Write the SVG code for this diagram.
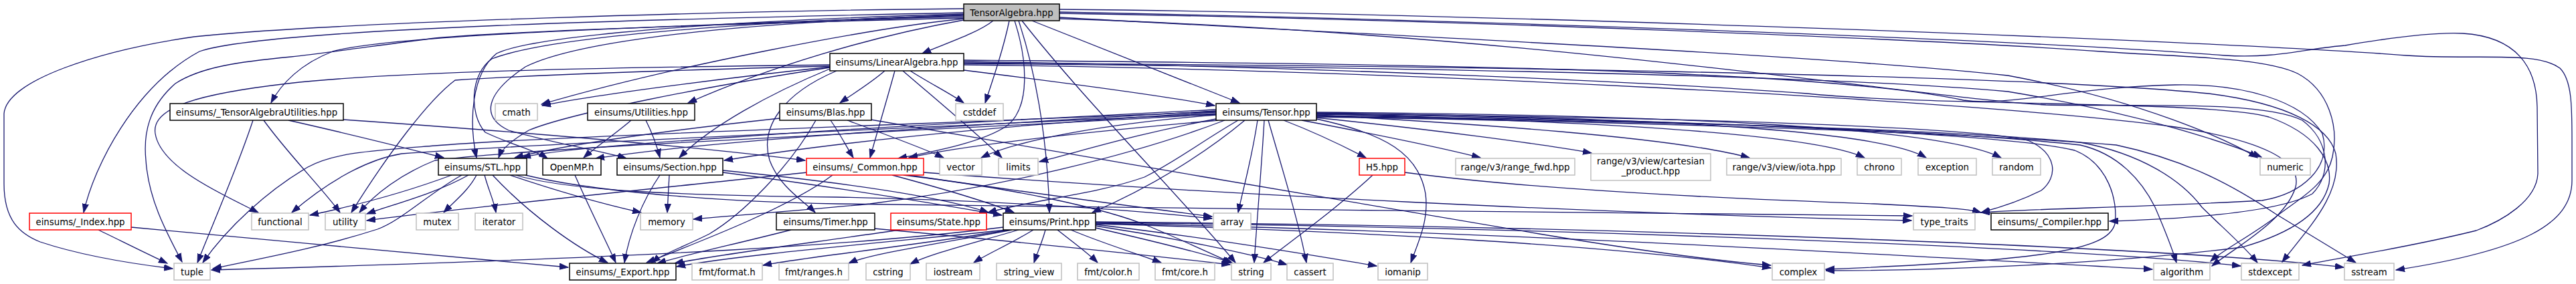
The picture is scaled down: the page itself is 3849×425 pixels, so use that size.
<svg xmlns="http://www.w3.org/2000/svg" width="3849" height="425" viewBox="0 0 3849 425">
<defs>
<marker id="ah" markerWidth="14" markerHeight="10" refX="13" refY="5" orient="auto" markerUnits="userSpaceOnUse">
<path d="M0,0.4 L13,5 L0,9.6 z" fill="#191970" stroke="#191970" stroke-width="1"/>
</marker>
</defs>
<style>
.e{fill:none;stroke:#191970;stroke-width:1.3;marker-end:url(#ah)}
.b{fill:#ffffff;stroke:#000000;stroke-width:1.5}
.r{fill:#ffffff;stroke:#ff0000;stroke-width:1.5}
.g{fill:#ffffff;stroke:#bfbfbf;stroke-width:1.5}
.root{fill:#bfbfbf;stroke:#000000;stroke-width:1.5}
text{font-family:"DejaVu Sans","Liberation Sans",sans-serif;font-size:13.33px;fill:#000000;text-anchor:middle}
</style>
<rect x="0" y="0" width="3849" height="425" fill="#ffffff"/>
<g id="edges">
<!-- TensorAlgebra.hpp -->
<path class="e" d="M1484,31 C1460,50 1410,66 1378,80"/>
<path class="e" d="M1508,31 C1500,70 1485,115 1472,154"/>
<path class="e" d="M1516,31 C1535,90 1540,160 1505,188 C1470,212 1400,226 1342,237"/>
<path class="e" d="M1522,31 C1545,100 1565,200 1568,318"/>
<path class="e" d="M1527,31 C1620,150 1760,290 1846,393"/>
<path class="e" d="M1542,31 L1852,154"/>
<path class="e" d="M1440,22 C1100,38 600,48 497,77 C450,95 420,125 405,154"/>
<path class="e" d="M1440,19 C1000,28 400,42 298,77 C200,130 140,250 125,318"/>
<path class="e" d="M1440,13 C1100,16 500,33 290,55 C150,75 10,120 6,170 L6,275 C6,330 30,350 60,362 C120,382 200,395 258,402"/>
<path class="e" d="M1440,27 C1000,38 750,48 650,57 C550,70 480,80 435,85 C360,92 300,100 262,125 C222,160 214,200 218,240 C222,300 250,350 272,392"/>
<path class="e" d="M1440,28 C1300,42 1000,100 809,156"/>
<path class="e" d="M1440,30 C1300,55 1150,100 1028,154"/>
<path class="e" d="M1440,21 C1100,30 800,52 742,80 C705,110 700,180 712,236"/>
<path class="e" d="M1440,23 C1100,33 820,55 735,88 C703,110 700,170 725,198 C760,215 800,225 818,237"/>
<path class="e" d="M1440,25 C1100,32 860,62 785,100 C725,140 718,175 760,195 C830,215 900,226 936,237"/>
<path class="e" d="M1583,14 C2200,20 3300,60 3596,83 C3700,90 3790,76 3825,102 C3843,120 3843,160 3843,210 L3843,270 C3843,335 3770,375 3580,404"/>
<path class="e" d="M1583,18 C2200,30 3000,58 3325,83 C3400,88 3450,72 3504,68 C3580,55 3640,48 3680,50 C3760,55 3790,100 3791,160 L3792,260 C3790,300 3740,330 3700,345 C3600,370 3500,385 3440,397"/>
<path class="e" d="M1583,20 C2200,30 2900,60 3139,77 C3250,85 3380,85 3433,110 C3480,135 3495,190 3485,235 C3475,280 3430,300 3400,325 C3360,355 3320,375 3303,391"/>
<path class="e" d="M1583,26 C2000,50 2700,80 3000,113 C3200,150 3330,210 3373,236"/>
<path class="e" d="M1583,28 C2300,50 2900,150 3057,157 C3200,160 3380,150 3440,180 C3480,210 3485,260 3455,290 C3400,320 3250,328 3152,331"/>
<!-- LinearAlgebra.hpp -->
<path class="e" d="M1322,106 C1300,125 1275,140 1255,154"/>
<path class="e" d="M1337,106 C1325,150 1310,200 1300,236"/>
<path class="e" d="M1349,106 C1400,150 1460,200 1497,236"/>
<path class="e" d="M1360,106 C1390,125 1420,140 1440,154"/>
<path class="e" d="M1440,105 C1600,125 1750,145 1815,158"/>
<path class="e" d="M1240,100 C1100,115 900,140 810,158"/>
<path class="e" d="M1240,97 C1000,100 600,105 430,125 C300,140 225,160 232,200 C240,250 330,290 386,318"/>
<path class="e" d="M1240,99 C1000,105 800,112 680,120 C640,150 580,230 525,318"/>
<path class="e" d="M1240,103 C1150,140 1060,190 1015,236"/>
<path class="e" d="M1250,106 C1170,140 1135,190 1150,240 C1165,280 1200,300 1218,318"/>
<path class="e" d="M1240,101 C1050,130 850,170 790,195 C765,210 750,222 745,236"/>
<path class="e" d="M1440,95 C2000,100 2700,110 3000,137 C3200,170 3330,215 3379,235"/>
<path class="e" d="M1440,90 C2000,95 2700,100 2934,150 C3000,160 3100,130 3250,127 C3350,125 3440,150 3470,200 C3485,250 3440,290 3380,300 C3200,310 3050,312 2960,318"/>
<path class="e" d="M1440,92 C2000,100 2500,125 2700,140 C2900,160 3300,150 3390,175 C3460,200 3485,240 3480,275 C3470,320 3420,350 3350,370 C3150,395 2900,405 2728,405"/>
<path class="e" d="M1440,94 C2100,98 3000,110 3300,140 C3420,155 3480,190 3490,230 C3500,290 3450,340 3410,392"/>
<path class="e" d="M1440,97 C2100,105 2950,150 3250,190 C3380,210 3440,240 3430,280 C3415,330 3340,370 3305,398"/>
<!-- Tensor.hpp -->
<path class="e" d="M1918,180 C1970,200 2010,220 2041,236"/>
<path class="e" d="M1945,180 C2050,200 2150,220 2212,236"/>
<path class="e" d="M1966,176 C2150,195 2300,215 2378,229"/>
<path class="e" d="M1967,172 C2200,185 2500,205 2614,236"/>
<path class="e" d="M1967,170 C2300,180 2700,195 2786,236"/>
<path class="e" d="M1967,169 C2400,175 2800,190 2878,236"/>
<path class="e" d="M1967,168 C2500,172 2900,190 2990,236"/>
<path class="e" d="M1967,170 C2500,175 2950,190 3030,210 C3075,230 3075,265 3050,285 C3020,300 2990,310 2960,318"/>
<path class="e" d="M1967,171 C2500,178 3000,200 3100,225 C3150,245 3165,300 3160,335 C3150,375 3050,390 2728,403"/>
<path class="e" d="M1967,173 C2500,180 2900,195 3108,217 C3165,230 3200,270 3220,310 C3235,345 3245,370 3252,393"/>
<path class="e" d="M1967,174 C2500,182 2900,193 3108,213 C3200,230 3260,270 3290,310 C3320,340 3350,365 3373,393"/>
<path class="e" d="M1967,175 C2500,183 2950,200 3162,217 C3270,240 3340,280 3400,320 C3450,350 3490,375 3520,393"/>
<path class="e" d="M1817,164 C1600,175 1300,190 1100,205 C950,215 820,225 780,236"/>
<path class="e" d="M1817,166 C1500,185 1100,205 890,237"/>
<path class="e" d="M1817,168 C1600,180 1300,205 1082,240"/>
<path class="e" d="M1820,180 C1650,195 1450,215 1358,236"/>
<path class="e" d="M1817,172 C1650,185 1520,210 1466,236"/>
<path class="e" d="M1817,178 C1700,200 1620,225 1553,242"/>
<path class="e" d="M1817,170 C1400,190 800,215 600,230 C540,240 480,280 436,318"/>
<path class="e" d="M1817,171 C1400,195 800,220 650,240 C600,260 560,290 537,318"/>
<path class="e" d="M1817,167 C1400,185 800,205 650,218 C560,225 500,228 460,250 C400,285 340,340 303,393"/>
<path class="e" d="M1830,180 C1700,230 1500,280 1300,305 C1200,315 1100,322 1036,328"/>
<path class="e" d="M1850,180 C1790,215 1760,240 1710,265 C1640,290 1540,300 1476,318"/>
<path class="e" d="M1860,180 C1800,230 1720,280 1632,318"/>
<path class="e" d="M1879,180 C1870,240 1858,280 1850,318"/>
<path class="e" d="M1889,180 C1885,250 1878,330 1874,393"/>
<path class="e" d="M1895,180 C1915,250 1940,330 1952,393"/>
<path class="e" d="M1967,178 C2070,200 2120,230 2130,290 C2135,330 2120,360 2108,393"/>
<!-- _TensorAlgebraUtilities.hpp -->
<path class="e" d="M378,180 C355,250 320,330 295,393"/>
<path class="e" d="M394,180 C430,230 480,280 508,318"/>
<path class="e" d="M431,180 C520,200 600,220 663,236"/>
<path class="e" d="M513,179 C700,192 1000,215 1203,240"/>
<!-- Utilities.hpp -->
<path class="e" d="M943,180 C920,200 890,220 872,236"/>
<path class="e" d="M965,180 C975,200 982,220 986,236"/>
<!-- Blas.hpp -->
<path class="e" d="M1165,177 C1000,195 850,215 769,236"/>
<path class="e" d="M1241,180 C1255,200 1265,220 1275,236"/>
<path class="e" d="M1266,180 C1320,200 1380,222 1410,236"/>
<path class="e" d="M1219,180 C1180,250 1110,320 1060,350 C1020,370 990,380 974,393"/>
<path class="e" d="M1301,179 C1600,230 2000,300 2300,350 C2450,375 2560,390 2646,397"/>
<!-- _Common.hpp -->
<path class="e" d="M1244,262 C1180,310 1050,360 966,393"/>
<path class="e" d="M1206,258 C1000,280 700,310 548,330"/>
<path class="e" d="M1333,262 C1400,280 1470,300 1515,318"/>
<path class="e" d="M1357,262 C1550,290 1700,310 1811,324"/>
<path class="e" d="M1350,262 C1500,280 1650,310 1720,340 C1780,365 1820,385 1842,394"/>
<path class="e" d="M1380,258 C1800,290 2400,320 2856,330"/>
<!-- Print.hpp -->
<path class="e" d="M1499,340 C1300,365 1000,385 316,404"/>
<path class="e" d="M1505,344 C1300,365 1100,382 1011,399"/>
<path class="e" d="M1508,344 C1350,370 1200,385 1140,397"/>
<path class="e" d="M1512,344 C1400,365 1300,380 1268,394"/>
<path class="e" d="M1522,344 C1450,365 1390,380 1360,395"/>
<path class="e" d="M1544,344 C1510,365 1475,380 1455,393"/>
<path class="e" d="M1562,344 C1558,360 1550,378 1545,393"/>
<path class="e" d="M1580,344 C1600,360 1625,378 1640,393"/>
<path class="e" d="M1600,344 C1650,365 1700,380 1735,393"/>
<path class="e" d="M1637,341 C1720,360 1800,380 1840,393"/>
<path class="e" d="M1637,338 C1750,355 1870,380 1923,396"/>
<path class="e" d="M1637,336 C1800,355 1950,380 2057,398"/>
<path class="e" d="M1637,335 C2000,345 2400,365 2646,401"/>
<path class="e" d="M1637,334 C2200,345 2800,380 3216,403"/>
<path class="e" d="M1637,333 C2300,340 3100,370 3348,398"/>
<path class="e" d="M1637,332 C2400,338 3250,370 3502,400"/>
<!-- State.hpp / Timer.hpp -->
<path class="e" d="M1345,344 C1200,365 1080,380 1008,394"/>
<path class="e" d="M1182,344 C1100,365 1030,380 982,394"/>
<path class="e" d="M1306,342 C1500,360 1700,380 1838,396"/>
<!-- Section.hpp -->
<path class="e" d="M986,262 C960,300 940,350 933,393"/>
<path class="e" d="M1000,262 C999,280 998,300 997,318"/>
<path class="e" d="M1080,258 C1250,280 1400,305 1497,322"/>
<path class="e" d="M1080,255 C1250,272 1400,292 1477,318"/>
<!-- STL.hpp -->
<path class="e" d="M690,262 C640,290 600,330 564,343 C480,370 400,385 318,402"/>
<path class="e" d="M675,262 C600,290 520,310 463,322"/>
<path class="e" d="M700,262 C650,290 590,305 548,320"/>
<path class="e" d="M712,262 C700,285 680,300 663,318"/>
<path class="e" d="M724,262 C730,285 738,300 741,318"/>
<path class="e" d="M736,262 C790,320 860,370 908,393"/>
<path class="e" d="M762,262 C830,285 900,305 958,318"/>
<path class="e" d="M770,262 C850,285 1000,292 1250,295 C1500,300 1700,315 1811,327"/>
<path class="e" d="M785,262 C900,290 1100,302 1250,305 C1700,310 2400,320 2857,323"/>
<!-- OpenMP.h -->
<path class="e" d="M859,262 C880,310 905,360 920,393"/>
<!-- _Index.hpp -->
<path class="e" d="M147,344 C180,360 220,380 250,394"/>
<path class="e" d="M196,340 C400,360 700,385 849,400"/>
<!-- H5.hpp -->
<path class="e" d="M2051,262 C2000,310 1930,360 1888,393"/>
<path class="e" d="M2099,258 C2300,285 2600,298 2800,305 C2900,310 2940,312 2960,318"/>
</g>
<g id="node-TensorAlgebra"><rect class="root" x="1440" y="6" width="143" height="25"/><text x="1511.5" y="23.5">TensorAlgebra.hpp</text></g>
<g id="node-LinearAlgebra"><rect class="b" x="1240" y="80" width="200" height="26"/><text x="1340" y="97.5">einsums/LinearAlgebra.hpp</text></g>
<g id="node-TensorAlgebraUtilities"><rect class="b" x="254" y="155" width="259" height="25"/><text x="383.5" y="172.5">einsums/_TensorAlgebraUtilities.hpp</text></g>
<g id="node-cmath"><rect class="g" x="740" y="155" width="63" height="25"/><text x="771.5" y="172.5">cmath</text></g>
<g id="node-Utilities"><rect class="b" x="878" y="155" width="160" height="25"/><text x="958" y="172.5">einsums/Utilities.hpp</text></g>
<g id="node-Blas"><rect class="b" x="1165" y="155" width="137" height="25"/><text x="1233.5" y="172.5">einsums/Blas.hpp</text></g>
<g id="node-cstddef"><rect class="g" x="1428" y="155" width="71" height="25"/><text x="1463.5" y="172.5">cstddef</text></g>
<g id="node-Tensor"><rect class="b" x="1817" y="155" width="150" height="25"/><text x="1892" y="172.5">einsums/Tensor.hpp</text></g>
<g id="node-STL"><rect class="b" x="655" y="237" width="132" height="25"/><text x="721" y="254.5">einsums/STL.hpp</text></g>
<g id="node-OpenMP"><rect class="b" x="811" y="237" width="87" height="25"/><text x="854.5" y="254.5">OpenMP.h</text></g>
<g id="node-Section"><rect class="b" x="922" y="237" width="158" height="25"/><text x="1001" y="254.5">einsums/Section.hpp</text></g>
<g id="node-Common"><rect class="r" x="1205" y="237" width="175" height="25"/><text x="1292.5" y="254.5">einsums/_Common.hpp</text></g>
<g id="node-vector"><rect class="g" x="1404" y="237" width="63" height="25"/><text x="1435.5" y="254.5">vector</text></g>
<g id="node-limits"><rect class="g" x="1492" y="237" width="59" height="25"/><text x="1521.5" y="254.5">limits</text></g>
<g id="node-H5"><rect class="r" x="2031" y="237" width="68" height="25"/><text x="2065" y="254.5">H5.hpp</text></g>
<g id="node-range_fwd"><rect class="g" x="2175" y="237" width="178" height="25"/><text x="2264" y="254.5">range/v3/range_fwd.hpp</text></g>
<g id="node-cartesian"><rect class="g" x="2377" y="230" width="179" height="40"/><text x="2466.5" y="246">range/v3/view/cartesian</text><text x="2466.5" y="261">_product.hpp</text></g>
<g id="node-iota"><rect class="g" x="2580" y="237" width="171" height="25"/><text x="2665.5" y="254.5">range/v3/view/iota.hpp</text></g>
<g id="node-chrono"><rect class="g" x="2775" y="237" width="66" height="25"/><text x="2808" y="254.5">chrono</text></g>
<g id="node-exception"><rect class="g" x="2866" y="237" width="87" height="25"/><text x="2909.5" y="254.5">exception</text></g>
<g id="node-random"><rect class="g" x="2977" y="237" width="72" height="25"/><text x="3013" y="254.5">random</text></g>
<g id="node-numeric"><rect class="g" x="3377" y="237" width="75" height="25"/><text x="3414.5" y="254.5">numeric</text></g>
<g id="node-Index"><rect class="r" x="44" y="319" width="152" height="25"/><text x="120" y="336.5">einsums/_Index.hpp</text></g>
<g id="node-functional"><rect class="g" x="376" y="319" width="85" height="25"/><text x="418.5" y="336.5">functional</text></g>
<g id="node-utility"><rect class="g" x="486" y="319" width="60" height="25"/><text x="516" y="336.5">utility</text></g>
<g id="node-mutex"><rect class="g" x="622" y="319" width="63" height="25"/><text x="653.5" y="336.5">mutex</text></g>
<g id="node-iterator"><rect class="g" x="710" y="319" width="71" height="25"/><text x="745.5" y="336.5">iterator</text></g>
<g id="node-memory"><rect class="g" x="957" y="319" width="78" height="25"/><text x="996" y="336.5">memory</text></g>
<g id="node-Timer"><rect class="b" x="1160" y="319" width="147" height="25"/><text x="1233.5" y="336.5">einsums/Timer.hpp</text></g>
<g id="node-State"><rect class="r" x="1331" y="319" width="143" height="25"/><text x="1402.5" y="336.5">einsums/State.hpp</text></g>
<g id="node-Print"><rect class="b" x="1499" y="319" width="138" height="25"/><text x="1568" y="336.5">einsums/Print.hpp</text></g>
<g id="node-array"><rect class="g" x="1813" y="319" width="56" height="25"/><text x="1841" y="336.5">array</text></g>
<g id="node-type_traits"><rect class="g" x="2859" y="319" width="92" height="25"/><text x="2905" y="336.5">type_traits</text></g>
<g id="node-Compiler"><rect class="b" x="2975" y="319" width="175" height="25"/><text x="3062.5" y="336.5">einsums/_Compiler.hpp</text></g>
<g id="node-tuple"><rect class="g" x="260" y="394" width="54" height="25"/><text x="287" y="411.5">tuple</text></g>
<g id="node-Export"><rect class="b" x="851" y="394" width="159" height="25"/><text x="930.5" y="411.5">einsums/_Export.hpp</text></g>
<g id="node-format"><rect class="g" x="1034" y="394" width="105" height="25"/><text x="1086.5" y="411.5">fmt/format.h</text></g>
<g id="node-ranges"><rect class="g" x="1164" y="394" width="104" height="25"/><text x="1216" y="411.5">fmt/ranges.h</text></g>
<g id="node-cstring"><rect class="g" x="1294" y="394" width="66" height="25"/><text x="1327" y="411.5">cstring</text></g>
<g id="node-iostream"><rect class="g" x="1384" y="394" width="80" height="25"/><text x="1424" y="411.5">iostream</text></g>
<g id="node-string_view"><rect class="g" x="1489" y="394" width="97" height="25"/><text x="1537.5" y="411.5">string_view</text></g>
<g id="node-color"><rect class="g" x="1610" y="394" width="92" height="25"/><text x="1656" y="411.5">fmt/color.h</text></g>
<g id="node-core"><rect class="g" x="1726" y="394" width="89" height="25"/><text x="1770.5" y="411.5">fmt/core.h</text></g>
<g id="node-string"><rect class="g" x="1840" y="394" width="59" height="25"/><text x="1869.5" y="411.5">string</text></g>
<g id="node-cassert"><rect class="g" x="1923" y="394" width="69" height="25"/><text x="1957.5" y="411.5">cassert</text></g>
<g id="node-iomanip"><rect class="g" x="2059" y="394" width="74" height="25"/><text x="2096" y="411.5">iomanip</text></g>
<g id="node-complex"><rect class="g" x="2648" y="394" width="78" height="25"/><text x="2687" y="411.5">complex</text></g>
<g id="node-algorithm"><rect class="g" x="3218" y="394" width="84" height="25"/><text x="3260" y="411.5">algorithm</text></g>
<g id="node-stdexcept"><rect class="g" x="3349" y="394" width="86" height="25"/><text x="3392" y="411.5">stdexcept</text></g>
<g id="node-sstream"><rect class="g" x="3503" y="394" width="74" height="25"/><text x="3540" y="411.5">sstream</text></g>
</svg>
